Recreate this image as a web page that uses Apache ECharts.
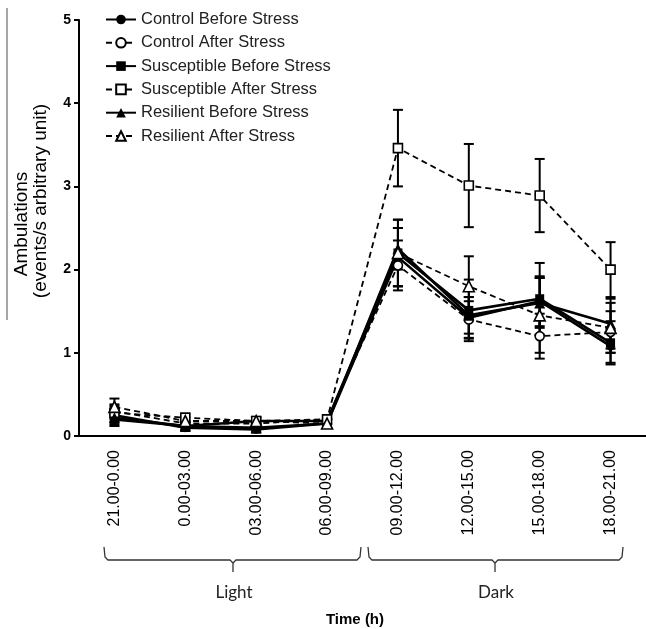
<!DOCTYPE html>
<html>
<head>
<meta charset="utf-8">
<script src="https://cdn.jsdelivr.net/npm/echarts@6/dist/echarts.min.js"></script>
<style>html,body{margin:0;padding:0;background:#fff;}#c{width:646px;height:629px;}</style>
</head>
<body>
<div id="c"></div>
<script>
var categories = ['21.00-0.00','0.00-03.00','03.00-06.00','06.00-09.00','09.00-12.00','12.00-15.00','15.00-18.00','18.00-21.00'];
var yTicks = [0,1,2,3,4,5];

var controlBefore      = [0.25, 0.10, 0.08, 0.15, 2.15, 1.42, 1.62, 1.08];
var controlBeforeErr   = [0.08, 0.04, 0.04, 0.05, 0.35, 0.25, 0.30, 0.20];
var controlAfter       = [0.30, 0.15, 0.15, 0.20, 2.05, 1.40, 1.20, 1.25];
var controlAfterErr    = [0.08, 0.04, 0.04, 0.05, 0.30, 0.22, 0.27, 0.25];
var suscBefore         = [0.20, 0.12, 0.18, 0.18, 2.20, 1.51, 1.65, 1.12];
var suscBeforeErr      = [0.08, 0.05, 0.05, 0.05, 0.40, 0.37, 0.43, 0.26];
var suscAfter          = [0.28, 0.22, 0.18, 0.20, 3.46, 3.01, 2.89, 2.00];
var suscAfterErr       = [0.08, 0.05, 0.04, 0.05, 0.46, 0.50, 0.44, 0.33];
var resBefore          = [0.22, 0.12, 0.10, 0.15, 2.25, 1.45, 1.60, 1.35];
var resBeforeErr       = [0.08, 0.04, 0.04, 0.05, 0.25, 0.22, 0.30, 0.30];
var resAfter           = [0.35, 0.18, 0.18, 0.15, 2.20, 1.80, 1.45, 1.30];
var resAfterErr        = [0.10, 0.05, 0.04, 0.05, 0.40, 0.36, 0.45, 0.30];

var seriesNames = ['Control Before Stress','Control After Stress','Susceptible Before Stress','Susceptible After Stress','Resilient Before Stress','Resilient After Stress'];
var seriesVals = [controlBefore, controlAfter, suscBefore, suscAfter, resBefore, resAfter];
var seriesErrs = [controlBeforeErr, controlAfterErr, suscBeforeErr, suscAfterErr, resBeforeErr, resAfterErr];
var symbols = ['circle','circle','rect','rect','triangle','triangle'];
var dashed = [false,true,false,true,false,true];

var chart = echarts.init(document.getElementById('c'), null, {renderer:'canvas'});

var series = [];
seriesVals.forEach(function(vals, i){
  var errData = vals.map(function(v, j){ return [j, v - seriesErrs[i][j], v + seriesErrs[i][j]]; });
  series.push({
    type: 'custom',
    name: seriesNames[i] + ' err',
    data: errData,
    z: 1,
    silent: true,
    renderItem: function(params, api){
      var x = api.value(0);
      var lo = api.coord([x, api.value(1)]);
      var hi = api.coord([x, api.value(2)]);
      var w = 5;
      var st = {stroke:'#000', lineWidth:2};
      return {type:'group', children:[
        {type:'line', shape:{x1:lo[0],y1:lo[1],x2:hi[0],y2:hi[1]}, style:st},
        {type:'line', shape:{x1:lo[0]-w,y1:lo[1],x2:lo[0]+w,y2:lo[1]}, style:st},
        {type:'line', shape:{x1:hi[0]-w,y1:hi[1],x2:hi[0]+w,y2:hi[1]}, style:st}
      ]};
    }
  });
});
seriesVals.forEach(function(vals, i){
  series.push({
    type: 'line',
    name: seriesNames[i],
    data: vals,
    z: 3,
    symbol: symbols[i],
    symbolSize: symbols[i]==='triangle' ? 11 : 9,
    showAllSymbol: true,
    animation: false,
    lineStyle: {color:'#000', width: dashed[i] ? 1.8 : 2.6, type: dashed[i] ? [6,4] : 'solid'},
    itemStyle: {color: dashed[i] ? '#fff' : '#000', borderColor:'#000', borderWidth: dashed[i] ? 1.6 : 0}
  });
});

chart.setOption({
  animation: false,
  backgroundColor: '#fff',
  grid: {left: 79, right: -2, top: 20, bottom: 193},
  legend: {
    data: seriesNames,
    orient: 'vertical',
    left: 100,
    top: 6,
    itemWidth: 30,
    itemHeight: 12,
    itemGap: 6.3,
    textStyle: {fontFamily:'Liberation Sans, Arial', fontSize: 16.5, color:'#222', padding:[0,0,0,0]}
  },
  xAxis: {
    type: 'category',
    data: categories,
    boundaryGap: true,
    axisLine: {lineStyle:{color:'#000', width:2}},
    axisTick: {alignWithLabel:true, length:5, lineStyle:{color:'#000', width:2}},
    axisLabel: {rotate:90, margin:14, color:'#000', fontFamily:'Liberation Sans, Arial', fontSize:16, interval:0}
  },
  yAxis: {
    type: 'value',
    min: yTicks[0], max: yTicks[yTicks.length-1], interval: 1,
    splitLine: {show:false},
    axisLine: {show:true, lineStyle:{color:'#000', width:2}},
    axisTick: {show:true, length:5, lineStyle:{color:'#000', width:2}},
    axisLabel: {margin:8, color:'#000', fontFamily:'Liberation Sans, Arial', fontSize:14, fontWeight:'bold'}
  },
  graphic: [
    {type:'line', shape:{x1:7,y1:8,x2:7,y2:320}, style:{stroke:'#888', lineWidth:1.5}},
    {type:'text', x:22, y:224, rotation:Math.PI/2, style:{text:'Ambulations', font:'19px "Liberation Sans", Arial', fill:'#000', align:'center', verticalAlign:'middle'}},
    {type:'text', x:41, y:201, rotation:Math.PI/2, style:{text:'(events/s arbitrary unit)', font:'19px "Liberation Sans", Arial', fill:'#000', align:'center', verticalAlign:'middle'}},
    {type:'polyline', shape:{points:[[104,547],[105,557],[108,560],[230,560],[233,563],[233,572]]}, style:{stroke:'#333', lineWidth:1.3, fill:null}},
    {type:'polyline', shape:{points:[[233,563],[236,560],[357,560],[360,557],[361,547]]}, style:{stroke:'#333', lineWidth:1.3, fill:null}},
    {type:'polyline', shape:{points:[[368,547],[369,557],[372,560],[492,560],[495,563],[495,572]]}, style:{stroke:'#333', lineWidth:1.3, fill:null}},
    {type:'polyline', shape:{points:[[495,563],[498,560],[619,560],[622,557],[623,547]]}, style:{stroke:'#333', lineWidth:1.3, fill:null}},
    {type:'text', x:234, y:593, style:{text:'Light', font:'17px Lato, "Open Sans", sans-serif', fill:'#222', align:'center', verticalAlign:'middle'}},
    {type:'text', x:496, y:593, style:{text:'Dark', font:'17px Lato, "Open Sans", sans-serif', fill:'#222', align:'center', verticalAlign:'middle'}},
    {type:'text', x:355, y:620, style:{text:'Time (h)', font:'bold 15px "Liberation Sans", Arial', fill:'#000', align:'center', verticalAlign:'middle'}}
  ],
  series: series
});
</script>
</body>
</html>
